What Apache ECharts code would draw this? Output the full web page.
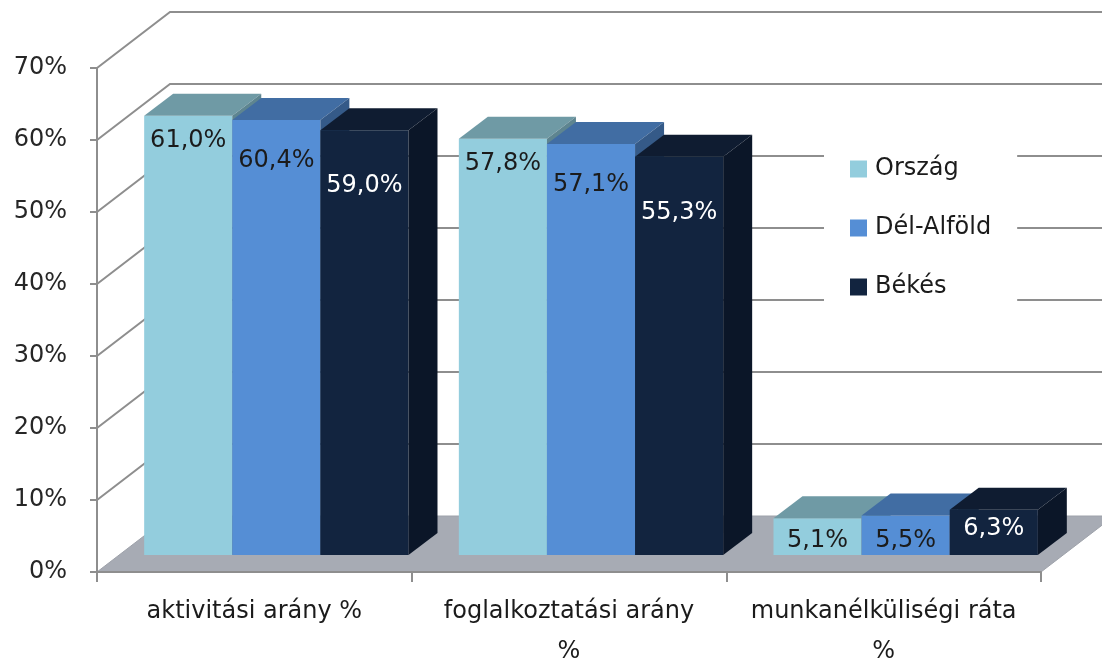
<!DOCTYPE html>
<html><head><meta charset="utf-8">
<script src="https://cdn.jsdelivr.net/npm/echarts@6/dist/echarts.min.js"></script>
<style>html,body{margin:0;padding:0;background:#fff}#c{width:1102px;height:664px}</style>
</head><body><div id="c"></div>
<script>
// ---- data ----
const categories = ['aktivitási arány %', 'foglalkoztatási arány\n%', 'munkanélküliségi ráta\n%'];
const seriesNames = ['Ország', 'Dél-Alföld', 'Békés'];
const orszag = [61.0, 57.8, 5.1];
const delAlfold = [60.4, 57.1, 5.5];
const bekes = [59.0, 55.3, 6.3];
const yTicks = [0, 10, 20, 30, 40, 50, 60, 70];

// ---- style ----
const FONT = 'DejaVu Sans';
const WALL = [73, -56];       // depth of back wall
const BAR_SHIFT = [22, -17];  // bars' front plane offset
const BAR_DEPTH = [29, -22];  // bars' own depth
const BAR_FRAC = 0.28;
const GRID_COLOR = '#8E8E8E';
const styles = [
  {front: '#93CDDD', top: '#6F9AA5', side: '#5E8590', text: '#1B1B1B', off: 25, minOff: 14},
  {front: '#558ED5', top: '#416DA3', side: '#355A88', text: '#1B1B1B', off: 41, minOff: 14},
  {front: '#12243F', top: '#0F1C31', side: '#0B1628', text: '#FFFFFF', off: 56, minOff: 26}
];
const fmt = v => v.toFixed(1).replace('.', ',') + '%';

function barRenderer(sIdx) {
  const st = styles[sIdx];
  return function (params, api) {
    const cat = api.value(0), v = api.value(1);
    const base = api.coord([cat, 0]);
    const topP = api.coord([cat, v]);
    const bandW = api.size([1, 0])[0];
    const bw = bandW * BAR_FRAC;
    const x0 = base[0] - 1.5 * bw + sIdx * bw + BAR_SHIFT[0];
    const yb = base[1] + BAR_SHIFT[1];
    const yt = topP[1] + BAR_SHIFT[1];
    const dx = BAR_DEPTH[0], dy = BAR_DEPTH[1];
    const ly = Math.min(yt + st.off, yb - st.minOff);
    return {
      type: 'group',
      children: [
        {type: 'rect', shape: {x: x0, y: yt, width: bw, height: yb - yt}, style: {fill: st.front}},
        {type: 'polygon', shape: {points: [[x0, yt], [x0 + bw, yt], [x0 + bw + dx, yt + dy], [x0 + dx, yt + dy]]}, style: {fill: st.top}},
        {type: 'polygon', shape: {points: [[x0 + bw, yt], [x0 + bw + dx, yt + dy], [x0 + bw + dx, yb + dy], [x0 + bw, yb]]}, style: {fill: st.side}},
        {type: 'text', x: x0 + bw / 2, y: ly, style: {text: fmt(v), fill: st.text, font: '24px "' + FONT + '"', align: 'center', verticalAlign: 'middle'}}
      ]
    };
  };
}

function frameRenderer(params, api) {
  const cs = params.coordSys;
  const left = cs.x, right = cs.x + cs.width;
  const v = api.value(1);
  const y = api.coord([0, v])[1];
  if (v === 0) {
    return {
      type: 'polygon',
      shape: {points: [[left, y], [right, y], [right + WALL[0], y + WALL[1]], [left + WALL[0], y + WALL[1]]]},
      style: {fill: '#A7ABB4', stroke: '#9EA2AA', lineWidth: 1}
    };
  }
  return {
    type: 'polyline',
    shape: {points: [[left, y], [left + WALL[0], y + WALL[1]], [right + WALL[0] + 20, y + WALL[1]]]},
    style: {stroke: GRID_COLOR, lineWidth: 2, fill: null}
  };
}

const allVals = [orszag, delAlfold, bekes];
const series = [{
  type: 'custom', name: 'frame', silent: true, z: 1,
  renderItem: frameRenderer,
  data: yTicks.map(v => [0, v]),
  encode: {x: 0, y: 1}
}];
seriesNames.forEach((n, i) => {
  series.push({
    type: 'custom', name: n, z: 2,
    itemStyle: {color: styles[i].front},
    renderItem: barRenderer(i),
    data: categories.map((c, j) => [j, allVals[i][j]]),
    encode: {x: 0, y: 1}
  });
});

const chart = echarts.init(document.getElementById('c'), null, {renderer: 'canvas'});
chart.setOption({
  animation: false,
  backgroundColor: '#fff',
  grid: {left: 97, right: 61, top: 68, bottom: 92, containLabel: false, outerBoundsMode: 'none'},
  legend: {
    data: seriesNames, orient: 'vertical', left: 824, top: 147,
    backgroundColor: '#fff', padding: [10, 26, 10, 26],
    itemWidth: 17, itemHeight: 17, itemGap: 35, icon: 'rect',
    textStyle: {fontFamily: FONT, fontSize: 24, color: '#1B1B1B', lineHeight: 24, padding: [0, 0, 0, 3]}
  },
  xAxis: {
    type: 'category', data: categories, z: 5,
    boundaryGap: true,
    axisLine: {show: true, lineStyle: {color: GRID_COLOR, width: 2}},
    axisTick: {show: true, length: 10, alignWithLabel: false, lineStyle: {color: GRID_COLOR, width: 2}},
    axisLabel: {fontFamily: FONT, fontSize: 24, color: '#1B1B1B', margin: 20, lineHeight: 40, interval: 0}
  },
  yAxis: {
    type: 'value', min: 0, max: 70, interval: 10, z: 5,
    axisLine: {show: true, lineStyle: {color: GRID_COLOR, width: 2}},
    axisTick: {show: true, length: 7, lineStyle: {color: GRID_COLOR, width: 2}},
    splitLine: {show: false},
    axisLabel: {fontFamily: FONT, fontSize: 24, color: '#262626', margin: 30, formatter: '{value}%'}
  },
  series: series
});
</script></body></html>
